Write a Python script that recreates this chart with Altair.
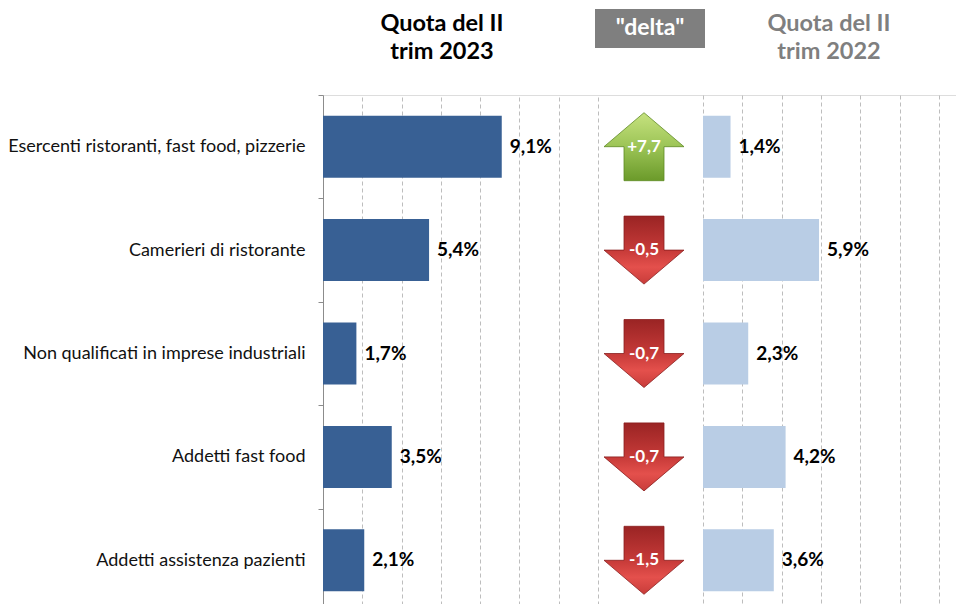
import altair as alt
import pandas as pd

categories = [
    "Esercenti ristoranti, fast food, pizzerie",
    "Camerieri di ristorante",
    "Non qualificati in imprese industriali",
    "Addetti fast food",
    "Addetti assistenza pazienti",
]
quota_2023 = [9.1, 5.4, 1.7, 3.5, 2.1]
quota_2022 = [1.4, 5.9, 2.3, 4.2, 3.6]
delta = [7.7, -0.5, -0.7, -0.7, -1.5]
grid_left = [2, 4, 6, 8, 10, 12, 14]
grid_right = [0, 2, 4, 6, 8, 10, 12]
title_left = ["Quota del II", "trim 2023"]
title_right = ["Quota del II", "trim 2022"]
title_delta = '"delta"'

df = pd.DataFrame({"cat": categories, "q23": quota_2023, "q22": quota_2022, "delta": delta})

FONT = "Lato"
H = 517
GRID = dict(grid=True, gridDash=[4, 3], gridColor="#bdbdbd", gridWidth=1,
            labels=False, ticks=False, domain=False, title=None)

yenc = alt.Y(
    "cat:N", sort=categories, title=None,
    scale=alt.Scale(range=[0, H], paddingInner=0, paddingOuter=0),
    axis=alt.Axis(domain=True, domainColor="#8c8c8c", ticks=True, tickColor="#8c8c8c",
                  tickSize=5, tickBand="extent", labelFont=FONT, labelFontSize=18,
                  labelColor="#111111", labelPadding=13, labelLimit=400, grid=False),
)

left_scale = alt.Scale(domain=[0, 14], range=[0, 275], nice=False)
right_scale = alt.Scale(domain=[0, 12], range=[380, 616], nice=False)

base = alt.Chart(df)
BAR_H = {"band": 0.6}

bars23 = base.mark_bar(color="#386094", height=BAR_H).encode(
    x=alt.X("q23:Q", scale=left_scale, axis=alt.Axis(values=grid_left, **GRID)),
    y=yenc,
)
lab23 = base.mark_text(align="left", dx=8, font=FONT, fontSize=19, fontWeight="bold",
                       color="black").encode(
    x=alt.X("q23:Q", scale=left_scale, axis=None),
    y=yenc,
    text=alt.Text("lab:N"),
).transform_calculate(lab="replace(format(datum.q23, '.1f'), '.', ',') + '%'")

bars22 = base.mark_bar(color="#b9cde5", height=BAR_H).encode(
    x=alt.X("q22:Q", scale=right_scale, axis=alt.Axis(values=grid_right, **GRID)),
    y=yenc,
)
lab22 = base.mark_text(align="left", dx=8, font=FONT, fontSize=19, fontWeight="bold",
                       color="black").encode(
    x=alt.X("q22:Q", scale=right_scale, axis=None),
    y=yenc,
    text=alt.Text("lab:N"),
).transform_calculate(lab="replace(format(datum.q22, '.1f'), '.', ',') + '%'")

up_path = "M0,-0.85L1,0L0.5,0L0.5,0.85L-0.5,0.85L-0.5,0L-1,0Z"
down_path = "M-0.5,-0.85L0.5,-0.85L0.5,0L1,0L0,0.85L-1,0L-0.5,0Z"

green = alt.Gradient(gradient="linear", x1=0, y1=0, x2=0, y2=1, stops=[
    alt.GradientStop(color="#c6e27f", offset=0),
    alt.GradientStop(color="#9cc456", offset=0.5),
    alt.GradientStop(color="#6b9a2a", offset=1),
])
red = alt.Gradient(gradient="linear", x1=0, y1=0, x2=0, y2=1, stops=[
    alt.GradientStop(color="#9a2424", offset=0),
    alt.GradientStop(color="#c63a38", offset=0.5),
    alt.GradientStop(color="#e4504c", offset=0.75),
    alt.GradientStop(color="#c83c3a", offset=1),
])

AX = 321
up = base.transform_filter("datum.delta > 0").mark_point(
    shape=up_path, size=6400, filled=True, fill=green, stroke="#5e8a22",
    strokeWidth=0.8, opacity=1).encode(x=alt.value(AX), y=yenc)
down = base.transform_filter("datum.delta <= 0").mark_point(
    shape=down_path, size=6400, filled=True, fill=red, stroke="#8a1e1e",
    strokeWidth=0.8, opacity=1).encode(x=alt.value(AX), y=yenc)
dlab = base.mark_text(font=FONT, fontSize=17, fontWeight="bold", color="white").encode(
    x=alt.value(AX), y=yenc, text=alt.Text("lab:N"),
).transform_calculate(
    lab="(datum.delta > 0 ? '+' : '-') + replace(format(abs(datum.delta), '.1f'), '.', ',')")

one = alt.Chart(pd.DataFrame({"k": [0]}))
t_left = one.mark_text(text=title_left, font=FONT, fontSize=23.5, fontWeight="bold",
                       color="black", lineHeight=28, baseline="alphabetic").encode(
    x=alt.value(119), y=alt.value(-64))
t_right = one.mark_text(text=title_right, font=FONT, fontSize=23.5, fontWeight="bold",
                        color="#7f7f7f", lineHeight=28, baseline="alphabetic").encode(
    x=alt.value(506), y=alt.value(-64))
box = one.mark_rect(color="#7f7f7f").encode(
    x=alt.value(272), x2=alt.value(382), y=alt.value(-86), y2=alt.value(-47))
t_delta = one.mark_text(text=title_delta, font=FONT, fontSize=23, fontWeight="bold",
                        color="white", baseline="middle").encode(
    x=alt.value(327), y=alt.value(-67))

chart = alt.layer(
    bars23, lab23, bars22, lab22, up, down, dlab, box, t_delta, t_left, t_right
).resolve_scale(x="independent").resolve_axis(x="independent").properties(
    width=633, height=H,
    autosize=alt.AutoSizeParams(type="none"),
    padding={"left": 315, "top": 87, "right": 0, "bottom": 0},
).configure_view(stroke=None).configure(background="white")

chart.save("out.html", embed_options={"renderer": "svg", "actions": False})
